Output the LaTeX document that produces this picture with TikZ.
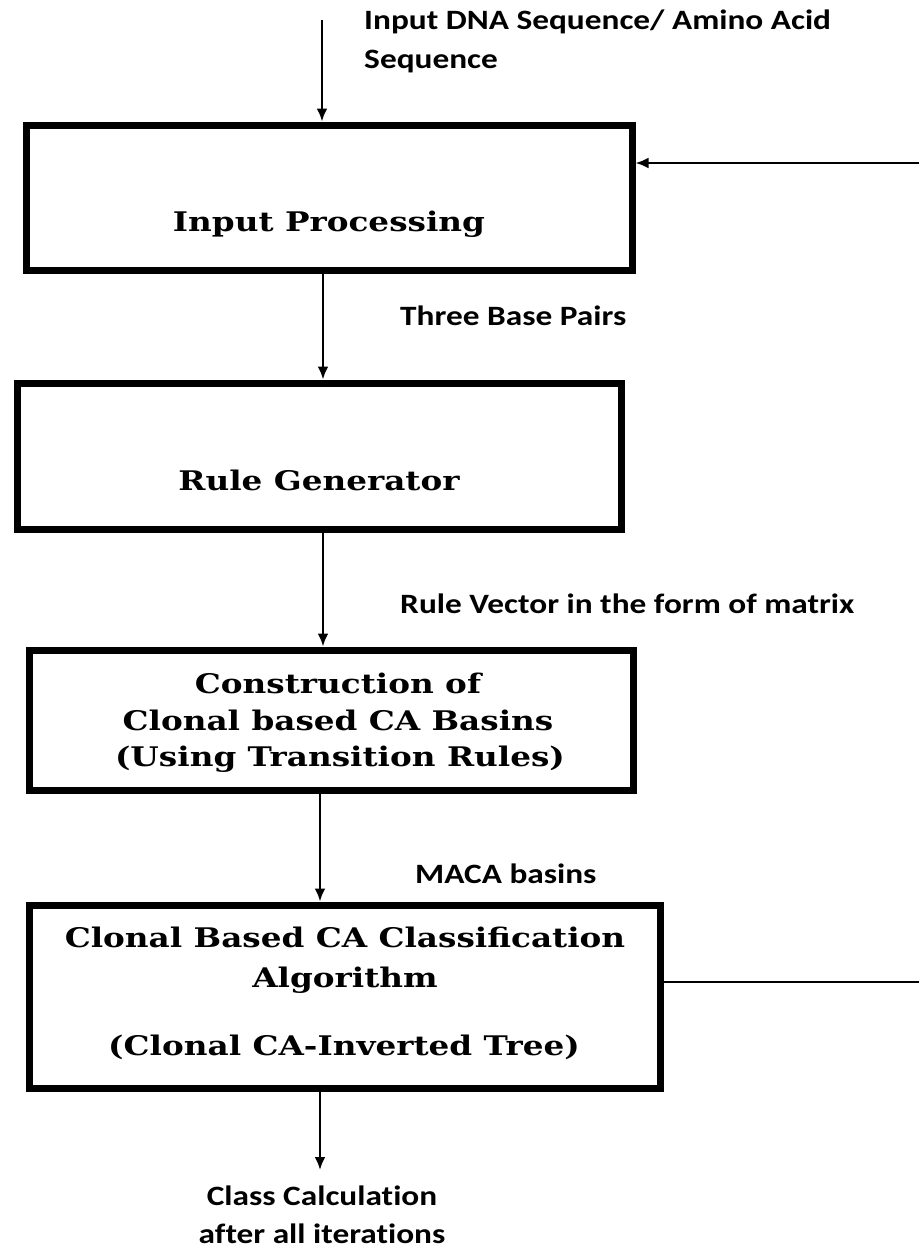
\documentclass[tikz,border=0pt]{standalone}
\usepackage{fontspec}
\setmainfont{DejaVu Serif}
\newfontfamily\labfont[Ligatures={NoCommon}]{Carlito}
\newfontfamily\boxfont{DejaVu Serif}
\usetikzlibrary{arrows.meta}
\begin{document}
\begin{tikzpicture}[x=1pt,y=-1pt,
  box/.style={draw, line width=7pt, inner sep=0pt, outer sep=3.5pt},
  boxtxt/.style={anchor=base, inner sep=0pt, xscale=1.21,
    font=\boxfont\bfseries\fontsize{27}{30}\selectfont},
  labtxt/.style={anchor=base west, inner sep=0pt, xscale=1.19,
    font=\labfont\bfseries\fontsize{28}{32}\selectfont},
  labmid/.style={labtxt, anchor=base},
  arr/.style={line width=2.8pt, -{Latex[length=13pt,width=11pt]}},
  fb/.style={line width=2.4pt}]
\useasboundingbox (0,0) rectangle (919,1250);

% boxes
\node[box, minimum width=606pt, minimum height=145pt] (b1) at (329,197.5) {};
\node[box, minimum width=604pt, minimum height=146pt] (b2) at (319,456) {};
\node[box, minimum width=604pt, minimum height=140pt] (b3) at (331,720) {};
\node[box, minimum width=631pt, minimum height=183pt] (b4) at (344.5,996.5) {};

% box texts
\node[boxtxt] (t1) at (329,231) {Input Processing};
\node[boxtxt] (t2) at (319,490) {Rule Generator};
\node[boxtxt] (t3a) at (338,693) {Construction of};
\node[boxtxt] (t3b) at (338,730) {Clonal based CA Basins};
\node[boxtxt] (t3c) at (340,766) {(Using Transition Rules)};
\node[boxtxt] (t4a) at (345,947) {Clonal Based CA Classification};
\node[boxtxt] (t4b) at (345,987) {Algorithm};
\node[boxtxt] (t4c) at (344,1055) {(Clonal CA-Inverted Tree)};

% connector labels
\node[labtxt] (l0a) at (364,29) {Input DNA Sequence/ Amino Acid};
\node[labtxt] (l0b) at (364,68) {Sequence};
\node[labtxt] (l1) at (400,325) {Three Base Pairs};
\node[labtxt] (l2) at (400,613) {Rule Vector in the form of matrix};
\node[labtxt] (l3) at (415,883) {MACA basins};
\node[labmid] (l4a) at (322,1205) {Class Calculation};
\node[labmid] (l4b) at (322,1243) {after all iterations};

% coordinates
\coordinate (in) at (322,20);
\coordinate (c1) at (323,0);
\coordinate (c2) at (323,0);
\coordinate (c3) at (320,0);
\coordinate (out) at (320,1170);
\coordinate (fbtop) at (919,163);
\coordinate (fbbot) at (919,982);

% connectors
\draw[arr] (in) -- (in |- b1.north);
\draw[arr] (c1 |- b1.south) -- (c1 |- b2.north);
\draw[arr] (c2 |- b2.south) -- (c2 |- b3.north);
\draw[arr] (c3 |- b3.south) -- (c3 |- b4.north);
\draw[arr] (out |- b4.south) -- (out);
\draw[fb, -{Latex[length=13pt,width=11pt]}] (fbtop) -- (fbtop -| b1.east);
\draw[fb] (b4.east |- fbbot) -- (fbbot);
\end{tikzpicture}
\end{document}
